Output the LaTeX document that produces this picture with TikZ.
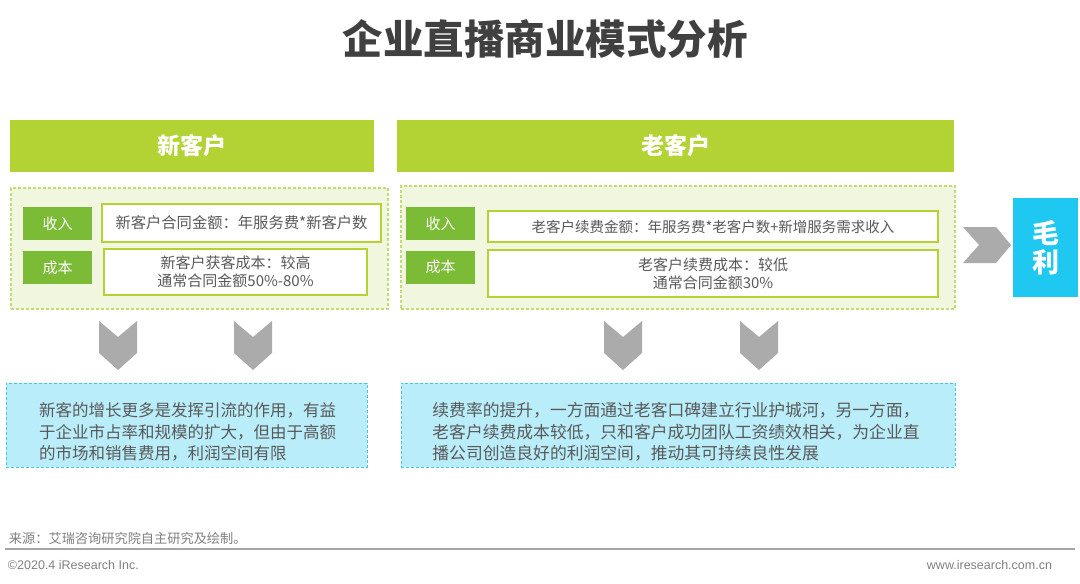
\documentclass[tikz,border=0pt]{standalone}
\usepackage{fontspec}
\setmainfont{Noto Sans CJK SC}
\newfontfamily\arialf{Liberation Sans}
\definecolor{hdrgreen}{HTML}{B3D335}
\definecolor{lblgreen}{HTML}{7CBB36}
\definecolor{panelfill}{HTML}{F1F6DE}
\definecolor{paneldash}{HTML}{C2DC74}
\definecolor{chevgray}{HTML}{ABABAB}
\definecolor{profitblue}{HTML}{1EC8F0}
\definecolor{notefill}{HTML}{B9EDFA}
\definecolor{notedash}{HTML}{45C4EC}
\definecolor{bodytext}{HTML}{595959}
\definecolor{titletext}{HTML}{404040}
\definecolor{foottext}{HTML}{808080}
\definecolor{rulegray}{HTML}{A6A6A6}
\begin{document}
\begin{tikzpicture}[x=1pt,y=-1pt,
  every node/.style={inner sep=0pt, outer sep=0pt},
  hdr/.style={fill=hdrgreen, text=white, font=\fontsize{23}{26}\selectfont\bfseries, minimum height=52pt},
  panel/.style={fill=panelfill, draw=paneldash, line width=1.2pt, dash pattern=on 3pt off 2pt},
  lbl/.style={fill=lblgreen, text=white, font=\fontsize{15}{18}\selectfont, minimum width=69pt, minimum height=33pt},
  wbox/.style={fill=white, draw=hdrgreen, line width=1.5pt, text=bodytext, align=center, font=\fontsize{15}{18}\selectfont},
  note/.style={fill=notefill, draw=notedash, line width=1pt, dash pattern=on 3pt off 2pt, minimum height=84pt},
  notetext/.style={text=bodytext, align=left, font=\fontsize{16.5}{21.5}\selectfont},
  chev/.style={fill=chevgray},
  profit/.style={fill=profitblue, text=white, align=center, font=\fontsize{27}{29}\selectfont\bfseries, minimum width=65pt, minimum height=99pt}
]
\useasboundingbox[fill=white] (0,0) rectangle (1080,584);

% title
\node[text=titletext, font=\fontsize{40.5}{46}\selectfont\bfseries] (title) at (545,39) {企业直播商业模式分析};

% headers
\node[hdr, minimum width=364pt] (hnew) at (192,146) {新客户};
\node[hdr, minimum width=557pt] (hold) at (675.5,146) {老客户};

% panels
\node[panel, minimum width=377pt, minimum height=121pt] (pnew) at (199.5,248.5) {};
\node[panel, minimum width=554pt, minimum height=123pt] (pold) at (678,247.5) {};

% left panel contents
\node[lbl] (inNew) at (57.5,223.5) {收入};
\node[lbl] (costNew) at (57.5,267.5) {成本};
\node[wbox, minimum width=279pt, minimum height=38pt, font=\fontsize{15.3}{18}\selectfont] (incNewBox) at (241.5,223) {新客户合同金额：年服务费*新客户数};
\node[wbox, minimum width=263pt, minimum height=46pt] (costNewBox) at (235.5,272) {新客户获客成本：较高\\通常合同金额50\%-80\%};

% right panel contents
\node[lbl] (inOld) at (440.5,223.5) {收入};
\node[lbl] (costOld) at (440.5,267) {成本};
\node[wbox, minimum width=450pt, minimum height=31pt, font=\fontsize{14.5}{18}\selectfont] (incOldBox) at (713,226.5) {老客户续费金额：年服务费*老客户数+新增服务需求收入};
\node[wbox, minimum width=450pt, minimum height=47pt] (costOldBox) at (713,273.5) {老客户续费成本：较低\\通常合同金额30\%};

% profit
\node[profit] (profit) at (1045.5,247.5) {毛\\利};
\fill[chev] (963,227) -- (996,227) -- (1011,245) -- (996,263) -- (963,263) -- (979,245) -- cycle;

% down chevrons
\foreach \xo in {99,234,604,740}{
  \fill[chev] (\xo,321) -- (\xo+19,337) -- (\xo+38,321) -- (\xo+38,353) -- (\xo+19,370) -- (\xo,353) -- cycle;
}

% notes
\node[note, minimum width=361pt] (noteNew) at (186.5,425) {};
\node[notetext] (noteNewText) at (187.5,432) {新客的增长更多是发挥引流的作用，有益\\于企业市占率和规模的扩大，但由于高额\\的市场和销售费用，利润空间有限};
\node[note, minimum width=554pt] (noteOld) at (678,425) {};
\node[notetext, font=\fontsize{16.8}{21.5}\selectfont] (noteOldText) at (676,432) {续费率的提升，一方面通过老客口碑建立行业护城河，另一方面，\\老客户续费成本较低，只和客户成功团队工资绩效相关，为企业直\\播公司创造良好的利润空间，推动其可持续良性发展};

% footer
\node[anchor=west, text=foottext, font=\fontsize{13.2}{15}\selectfont] (source) at (9,538) {来源：艾瑞咨询研究院自主研究及绘制。};
\coordinate (ruleL) at (5,549);
\coordinate (ruleR) at (1075,549);
\draw[rulegray, line width=2pt] (ruleL) -- (ruleR);
\node[anchor=west, text=foottext, font=\arialf\fontsize{12.5}{14}\selectfont] (copy) at (8,565) {©2020.4 iResearch Inc.};
\node[anchor=east, text=foottext, font=\arialf\fontsize{12.5}{14}\selectfont] (web) at (1052,565) {www.iresearch.com.cn};
\end{tikzpicture}
\end{document}
